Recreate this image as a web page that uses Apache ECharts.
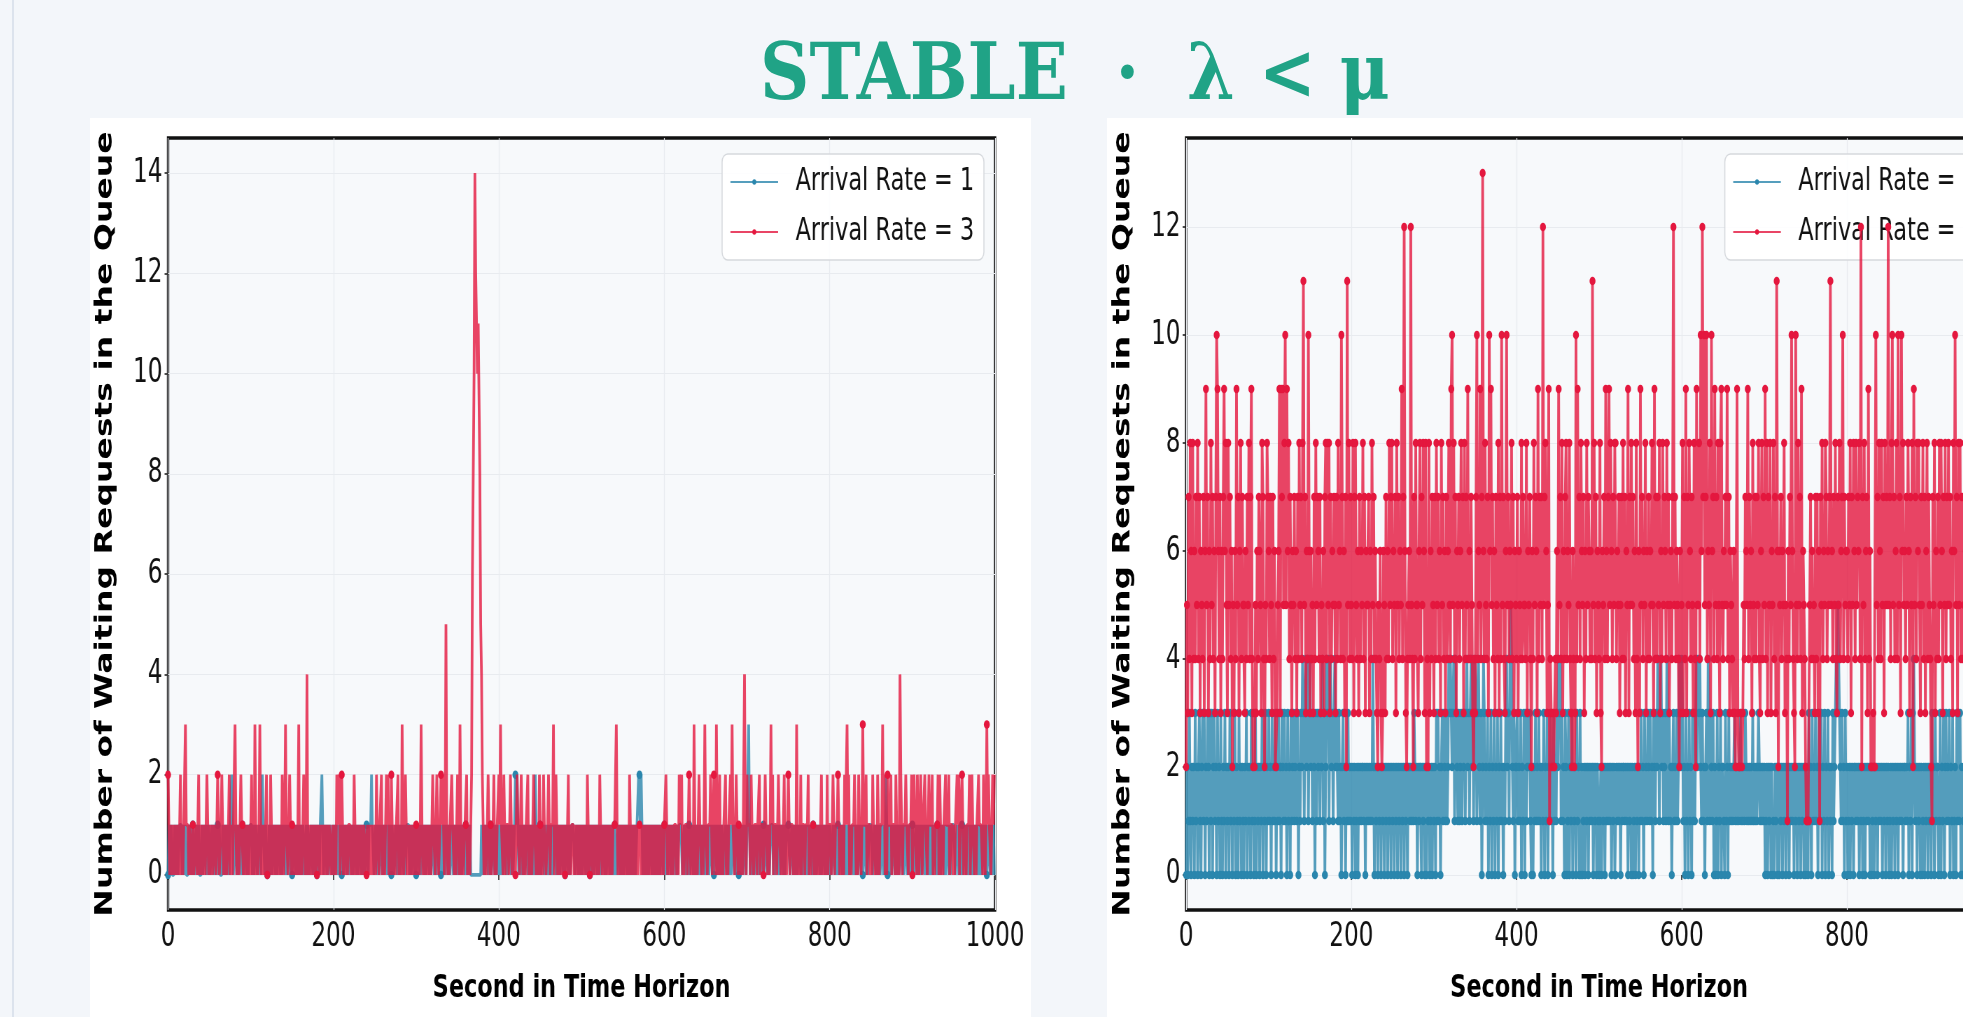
<!DOCTYPE html>
<html lang="en">
<head>
<meta charset="utf-8">
<title>STABLE · λ &lt; μ</title>
<script src="https://cdn.jsdelivr.net/npm/echarts@6.0.0/dist/echarts.min.js"></script>
<style>
    html, body {margin: 0; padding: 0; width: 1963px; height: 1017px; overflow: hidden; background: #f3f6fa;}
    .side-line {position: absolute; left: 12px; top: 0; width: 2px; height: 1017px; background: #dce3ed;}
    .page-title {position: absolute; left: 0; top: 33px; width: 2150px; text-align: center; white-space: pre;
        font-family: "DejaVu Serif", serif; font-weight: bold; font-size: 78px; line-height: 78px; color: #20a386;
        transform: scaleX(0.877); transform-origin: 1075px 0;}
    .panel {position: absolute; top: 118px; width: 941px; height: 899px; background: #fff; overflow: hidden;}
    /* 原图被横向压缩过，这里用同样的比例压缩画布 */
    .chart {width: 1344px; height: 899px; transform: scaleX(0.7); transform-origin: 0 0;}
</style>
</head>
<body>
<div class="side-line"></div>
<div class="page-title">STABLE  ·  λ &lt; μ</div>
<div class="panel" style="left:90px"><div id="chartLeft" class="chart"></div></div>
<div class="panel" style="left:1107px"><div id="chartRight" class="chart"></div></div>
<script>
// 刻度
let xTicks = [0, 200, 400, 600, 800, 1000];
let yTicksLeft = [0, 2, 4, 6, 8, 10, 12, 14];
let yTicksRight = [0, 2, 4, 6, 8, 10, 12];
let leftNames = ["Arrival Rate = 1", "Arrival Rate = 3"];
let rightNames = ["Arrival Rate = 5", "Arrival Rate = 10"];

// 每秒排队人数，一个字符一秒（0-9, a=10 ... e=14），每行 50 秒
let leftRate1 = [
    "0110100011 0100111010 0100011010 1100110100 0100110101",
    "1001101001 1010001101 1011011210 0110100110 1001101001",
    "1101001100 1101211010 0011010011 0100110100 1101001101",
    "0011010010 1101100101 1001101001 0110112100 1101001100",
    "1001101011 0100110100 1101001101 0011010100 1101112110",
    "0110100110 1001101001 0110011010 1001101001 1101001101",
    "0011010011 0100110100 1101001101 0110100110 1001101001",
    "0110100110 1011010000 0000000001 1010011010 1001101101",
    "0110100110 1001101001 2121010110 1001101001 0110210110",
    "1001101001 0110100110 1101001101 0011010011 1100110100",
    "1001101001 0110100110 1101001101 0011010010 1100110100",
    "1001101001 0110100112 2121011010 1001101001 0110100110",
    "1101001101 0011010011 1100110100 1001101001 0110100110",
    "1101001101 0011010010 1100110100 1001101001 0110100110",
    "1231011010 0110100110 1001101001 1101001101 0011010011",
    "1100110100 1001101001 0110100110 1101001101 0011010010",
    "1100110100 1001101001 0110100110 1101001101 0011010011",
    "1100110100 1001101021 0110100110 1101001101 0011010010",
    "1100110100 1001101001 0110100110 1101001101 0011010011",
    "1100110100 1001101001 0110100110 1101001101 0011010010"
];
let leftRate3 = [
    "2101101001 0110120101 2311101100 1001101201 0101101210",
    "1101001101 2100121010 1001201101 1310110021 1010110110",
    "1201031010 1310101012 0110210110 1001011021 0131101210",
    "1010110130 1101210140 1011011010 0110101101 1010011001",
    "0110211201 2101101011 1001021010 1010110110 0101101101",
    "1021101120 1101212010 2101101120 1103101210 1001010110",
    "1101013100 1010110101 2110121001 2121015101 0112110101",
    "2103101001 1201101268 aeccabb854 2101101210 1001201011",
    "2131102101 1101210101 0121101210 1101120101 0121101102",
    "1010211001 2101113012 1011010101 0101201011 1010110110",
    "1101010210 0110101101 1021101001 0101101011 1131010110",
    "1001011021 0110110101 1101101101 1010110101 0101010110",
    "1121010110 1011101021 1201011100 2101103101 0121101013",
    "1101112101 2103101201 1011201011 2131101210 1101102410",
    "2111021101 1101120111 0121101013 1201110021 1010120101",
    "2101110110 3101020111 0111201011 1010110101 2010110201",
    "1101210111 2101101021 1312010111 2101021101 3111201110",
    "1021101021 0111312010 2111201110 2101042101 1121101112",
    "0121102101 2101121101 2111201011 1202101011 2111201110",
    "1011212011 2101101112 0121101011 2111102101 3121101212"
];
let rightRate1 = [
    "0201310212 0312023102 3130213203 1302312031 2031021302",
    "1203120213 0210312021 0213021203 1201302120 2130213021",
    "3120312130 2131203213 1203120312 3123130213 2431342413",
    "4231320313 2313241302 4341342313 4232131202 3120213121",
    "2021201202 1212212021 2121214202 1202120212 0212021202",
    "1202120212 0212021202 2121213212 0212202120 2021201202",
    "1203131202 3132131243 4323414321 3123132313 4231342413",
    "4313421302 4312130213 0213021302 1312021342 3145421302",
    "2312130213 0312323102 0213121312 0213021302 1312031213",
    "2434131203 2013021302 1203120302 0120212021 2120212021",
    "0120212021 2121202120 0212120212 2121202120 2012021202",
    "1312031213 2131203213 2431342312 3143131202 3121312432",
    "4312031203 1203131342 4342131202 3143132130 2013021302",
    "2103120312 1212312121 2312121321 2121213121 2123212121",
    "2012021202 0102120202 1202120212 0212120212 0212021202",
    "0120312031 2131203213 0213021302 1203123435 4321312031",
    "2012021202 2121202120 1202121202 0120212021 2120212021",
    "2012021202 1202121202 2121302130 3421202120 2012021202",
    "1203120312 2013021302 3121302130 1203131302 0120312021",
    "2131213021 2013021302 1203120312 3121302130 2131202130"
];
let rightRate3 = [
    "2537486384 6475847365 4736957364 8574637a96 4736479685",
    "3857462536 4957368475 5364758479 4232536476 5387425487",
    "6475374622 3569397958 a596847536 5746374857 48b57364a6",
    "3645374857 6473546378 4858374657 53748564a7 46372b5847",
    "5483785463 7465847365 5736485746 4325463236 5374648578",
    "4657385746 5947c63245 64c5427485 5368475863 8242836475",
    "3748574638 5746374685 49a5847365 7468573847 5946475324",
    "37a465947d 6485473a69 5746375483 74a57436a5 7465847365",
    "4736548475 5483657426 4857639475 74c5786359 1432322436",
    "4957483647 8465843264 23a4957486 5736485764 64b5847365",
    "4832657496 4795864758 8465735748 4736593758 5746384263",
    "9574658364 7465853947 4758364857 6485735647 c574654263",
    "5837493758 6475384295 584a6c7a57 a46583a674 9574853895",
    "4657594736 5436322932 2232354765 9475638547 4758436847",
    "5948375836 58473b6265 7465835416 475a6432a5 4857493654",
    "2111157464 5374736175 8465874657 b564758437 58467a4756",
    "6475837586 4857684c27 5846739462 22322a5748 6485738575",
    "c5748a5746 84a573a685 6475863758 2957486853 7584736847",
    "5421758364 7485863758 4758574638 6a57385847 4758683758",
    "5485847567 4958673856 7485837586 4857684738 5684785746"
];

class QueueChart {

    constructor(props) {
        this.chart = null;
    }

    /**
     * 把字符行还原成 [秒, 人数] 数组
     * @param lines 每行 50 个字符
     * @returns {Array}
     */
    decode(lines) {
        let text = lines.join("").replace(/\s/g, "");
        let points = [];
        for (let i = 0; i < text.length; i++) {
            points.push([i, parseInt(text[i], 16)]);
        }
        return points;
    }

    /**
     * 创建一张排队图
     * @param options
     * @param options.id string 图表容器的Id
     * @param options.names [] 两条线的图例名称
     * @param options.data [] 两条线的数据
     * @param options.yMin number 纵轴下限
     * @param options.yMax number 纵轴上限
     * @param options.yTicks [] 纵轴刻度
     * @param options.gridLeft number 绘图区左边距
     * @param options.markEvery number 每隔几个点画一个圆点
     * @returns {*} 创建的图表
     */
    createChart(options) {
        let _this = this;
        let _options = {
            id: "chartLeft",
            names: [],
            data: [],
            yMin: -0.7,
            yMax: 14.7,
            yTicks: [],
            gridLeft: 111.5,
            markEvery: 1
        };
        if (typeof options !== "undefined") {
            for (let key in _options) {
                if (typeof options[key] !== "undefined") {
                    _options[key] = options[key];
                }
            }
        }

        let lineColors = ["#2a86ad", "#e4173e"];
        let font = "DejaVu Sans";
        let series = [];
        for (let i = 0; i < _options.data.length; i++) {
            series.push({
                type: "line",
                name: _options.names[i],
                data: _this.decode(_options.data[i]),
                symbol: "circle",
                symbolSize: function (value, params) {
                    return params.dataIndex % _options.markEvery === 0 ? 8.5 : 0;
                },
                showSymbol: true,
                lineStyle: {width: 3.8, color: lineColors[i], opacity: 0.8},
                itemStyle: {color: lineColors[i]},
                emphasis: {disabled: true},
                silent: true,
                z: 3 + i
            });
        }

        let dom = document.getElementById(_options.id);
        let myChart = echarts.init(dom, null, {renderer: "canvas"});
        myChart.setOption({
            animation: false,
            grid: {
                left: _options.gridLeft, right: 51, top: 20, bottom: 107,
                containLabel: false, outerBoundsMode: "none",
                show: true, backgroundColor: "#f7f9fb", borderColor: "#111", borderWidth: 3.4
            },
            legend: {
                orient: "vertical", right: 67, top: 36,
                itemWidth: 68, itemHeight: 7, itemGap: 18,
                padding: [12, 14, 12, 11],
                backgroundColor: "rgba(255,255,255,0.9)", borderColor: "#d6d9dd", borderWidth: 1.5, borderRadius: 8,
                textStyle: {fontSize: 32, fontFamily: font, color: "#111", padding: [0, 0, 0, 20]},
                data: _options.names
            },
            xAxis: {
                type: "value", min: xTicks[0], max: xTicks[xTicks.length - 1], interval: 200,
                axisLine: {show: false},
                axisTick: {show: true, length: 5, lineStyle: {color: "#222", width: 1.6}},
                axisLabel: {
                    fontSize: 33, fontFamily: font, color: "#111", margin: 11,
                    formatter: function (value) {
                        return String(value);
                    }
                },
                splitLine: {show: true, lineStyle: {color: "#e8ebef", width: 1.2}},
                name: "Second in Time Horizon", nameLocation: "middle", nameGap: 63, nameMoveOverlap: false,
                nameTextStyle: {fontSize: 32, fontWeight: "bold", fontFamily: font, color: "#000"}
            },
            yAxis: {
                type: "value", min: _options.yMin, max: _options.yMax, splitNumber: 7,
                axisLine: {show: false},
                axisTick: {show: true, length: 5, customValues: _options.yTicks, lineStyle: {color: "#222", width: 1.6}},
                axisLabel: {fontSize: 33, fontFamily: font, color: "#111", margin: 8, customValues: _options.yTicks},
                splitLine: {show: true, lineStyle: {color: "#e8ebef", width: 1.2}},
                name: "Number of Waiting Requests in the Queue", nameLocation: "middle", nameGap: 73, nameMoveOverlap: false,
                nameTextStyle: {fontSize: 33, fontWeight: "bold", fontFamily: font, color: "#000"}
            },
            series: series
        });
        _this.chart = myChart;
        return myChart;
    }
}

let leftChart = new QueueChart();
leftChart.createChart({
    id: "chartLeft",
    names: leftNames,
    data: [leftRate1, leftRate3],
    yMin: -0.7,
    yMax: 14.7,
    yTicks: yTicksLeft,
    gridLeft: 111.5,
    markEvery: 30
});

let rightChart = new QueueChart();
rightChart.createChart({
    id: "chartRight",
    names: rightNames,
    data: [rightRate1, rightRate3],
    yMin: -0.65,
    yMax: 13.65,
    yTicks: yTicksRight,
    gridLeft: 113,
    markEvery: 1
});
</script>
</body>
</html>
